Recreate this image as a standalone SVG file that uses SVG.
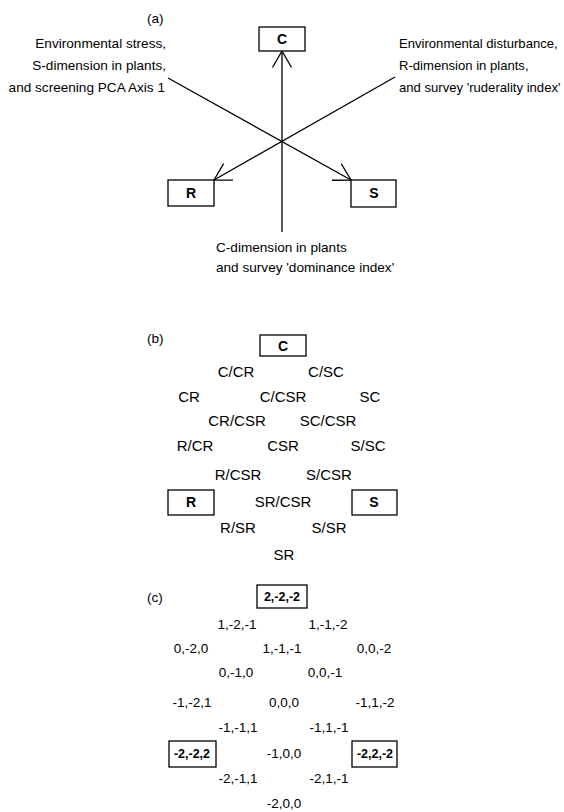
<svg xmlns="http://www.w3.org/2000/svg" width="564" height="812" viewBox="0 0 564 812">
<style>
text{font-family:"Liberation Sans",Arial,sans-serif;fill:#000}
.a{font-size:13.6px}
.ar{font-size:13.1px}
.b{font-size:15px;text-anchor:middle}
.c{font-size:13.5px;text-anchor:middle}
.lb{font-size:14px;font-weight:bold;text-anchor:middle}
.lc{font-size:12.5px;font-weight:bold;text-anchor:middle}
.box{fill:#fff;stroke:#000;stroke-width:1.3}
.ln{stroke:#000;stroke-width:1.3;fill:none;marker-end:url(#arr)}
</style>
<defs>
<marker id="arr" markerUnits="userSpaceOnUse" refX="0" refY="0" markerWidth="30" markerHeight="30" orient="auto" overflow="visible">
<path d="M-16.5,-9.5 L0,0 L-16.5,9.5" fill="none" stroke="#000" stroke-width="1.3"/>
</marker>
</defs>
<rect width="564" height="812" fill="#fff"/>

<!-- Part (a) -->
<text class="a" x="147" y="23">(a)</text>
<g id="a-label-left">
<text class="a" x="166" y="48" text-anchor="end">Environmental stress,</text>
<text class="a" x="166" y="70" text-anchor="end">S-dimension in plants,</text>
<text class="a" x="165" y="92" text-anchor="end">and screening PCA Axis 1</text>
</g>
<g id="a-label-right">
<text class="ar" x="399" y="48">Environmental disturbance,</text>
<text class="ar" x="399" y="70">R-dimension in plants,</text>
<text class="ar" x="399" y="92">and survey 'ruderality index'</text>
</g>
<g id="a-label-bottom">
<text class="a" x="216" y="252">C-dimension in plants</text>
<text class="a" x="216" y="272">and survey 'dominance index'</text>
</g>
<g id="a-connectors">
<line class="ln" x1="282" y1="232" x2="282" y2="51"/>
<line class="ln" x1="168" y1="78" x2="351" y2="180"/>
<line class="ln" x1="395" y1="77" x2="214" y2="180"/>
</g>
<g id="a-C"><rect class="box" x="259" y="27" width="46" height="24"/><text class="lb" x="282" y="44">C</text></g>
<g id="a-R"><rect class="box" x="168" y="180" width="46" height="26"/><text class="lb" x="191" y="198">R</text></g>
<g id="a-S"><rect class="box" x="351" y="180" width="45" height="27"/><text class="lb" x="374" y="198">S</text></g>

<!-- Part (b) -->
<text class="a" x="147" y="343">(b)</text>
<g id="b-C"><rect class="box" x="260" y="335" width="46" height="21"/><text class="lb" x="283" y="351">C</text></g>
<g id="b-R"><rect class="box" x="168" y="490" width="46" height="25"/><text class="lb" x="191" y="507">R</text></g>
<g id="b-S"><rect class="box" x="352" y="490" width="45" height="25"/><text class="lb" x="374" y="507">S</text></g>
<g id="b-cells">
<text class="b" x="236" y="377">C/CR</text>
<text class="b" x="326" y="377">C/SC</text>
<text class="b" x="189" y="402">CR</text>
<text class="b" x="283" y="402">C/CSR</text>
<text class="b" x="370" y="402">SC</text>
<text class="b" x="237" y="426">CR/CSR</text>
<text class="b" x="328" y="426">SC/CSR</text>
<text class="b" x="195" y="451">R/CR</text>
<text class="b" x="283" y="451">CSR</text>
<text class="b" x="368" y="451">S/SC</text>
<text class="b" x="238" y="480">R/CSR</text>
<text class="b" x="329" y="480">S/CSR</text>
<text class="b" x="283" y="507">SR/CSR</text>
<text class="b" x="238" y="533">R/SR</text>
<text class="b" x="329" y="533">S/SR</text>
<text class="b" x="284" y="560">SR</text>
</g>

<!-- Part (c) -->
<text class="a" x="147" y="602">(c)</text>
<g id="c-top"><rect class="box" x="257" y="585" width="50" height="23"/><text class="lc" x="282" y="601">2,-2,-2</text></g>
<g id="c-left"><rect class="box" x="169" y="741" width="47" height="26"/><text class="lc" x="192" y="758">-2,-2,2</text></g>
<g id="c-right"><rect class="box" x="352" y="741" width="45" height="26"/><text class="lc" x="375" y="758">-2,2,-2</text></g>
<g id="c-cells">
<text class="c" x="237" y="629">1,-2,-1</text>
<text class="c" x="328" y="629">1,-1,-2</text>
<text class="c" x="191" y="653">0,-2,0</text>
<text class="c" x="282" y="653">1,-1,-1</text>
<text class="c" x="374" y="653">0,0,-2</text>
<text class="c" x="236" y="677">0,-1,0</text>
<text class="c" x="325" y="677">0,0,-1</text>
<text class="c" x="192" y="707">-1,-2,1</text>
<text class="c" x="284" y="707">0,0,0</text>
<text class="c" x="375" y="707">-1,1,-2</text>
<text class="c" x="238" y="732">-1,-1,1</text>
<text class="c" x="329" y="732">-1,1,-1</text>
<text class="c" x="284" y="758">-1,0,0</text>
<text class="c" x="238" y="783">-2,-1,1</text>
<text class="c" x="329" y="783">-2,1,-1</text>
<text class="c" x="284" y="808">-2,0,0</text>
</g>
</svg>
